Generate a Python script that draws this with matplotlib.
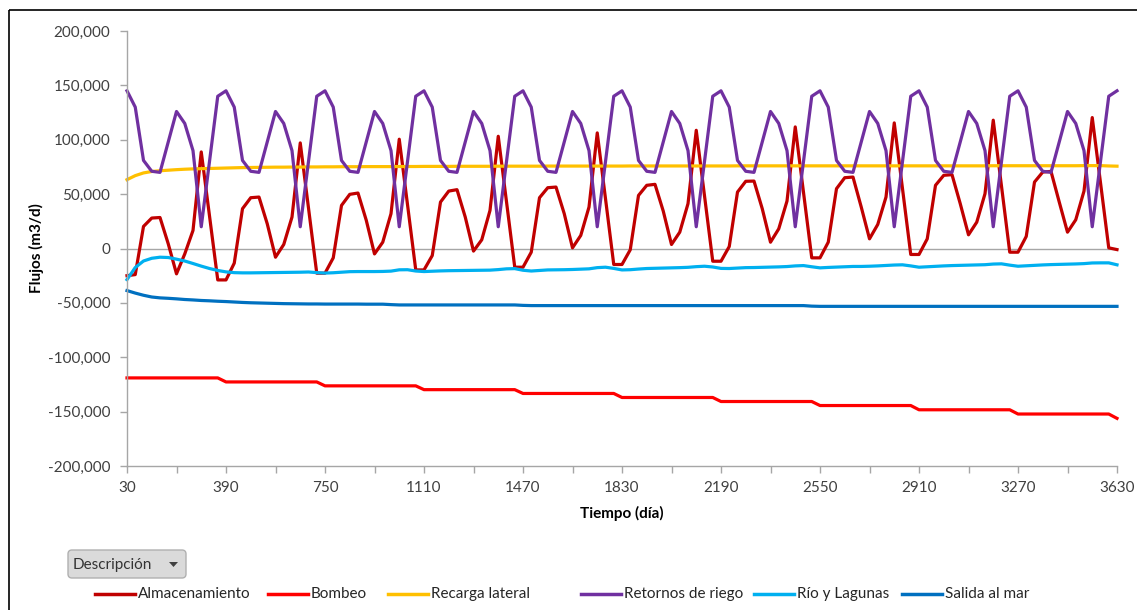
import numpy as np
import matplotlib
matplotlib.use('Agg')
import matplotlib.pyplot as plt
from matplotlib.ticker import FuncFormatter, MultipleLocator
from matplotlib.patches import FancyBboxPatch, Rectangle, Polygon
from matplotlib.lines import Line2D

plt.rcParams['font.family'] = ['Lato', 'DejaVu Sans']

# dias de simulacion (pasos mensuales)
dias = list(range(30, 3631, 30))

almacenamiento = [
    -25000, -24000, 20300, 28000, 28500, 4300, -23300, -5000, 16600, 88800, 30000, -28900,
    -28900, -13500, 36600, 46700, 47300, 22700, -8000, 3700, 28900, 97100, 37200, -22700,
    -22700, -8600, 39600, 49800, 51000, 26000, -5000, 5800, 32000, 100500, 40400, -19700,
    -19700, -6500, 42700, 52800, 54100, 28900, -2400, 8000, 35000, 103200, 43000, -17200,
    -17200, -3400, 46700, 55900, 56500, 32000, 600, 12000, 38100, 106300, 45800, -14700,
    -14700, -1200, 48800, 58100, 59000, 34400, 3700, 15000, 41200, 108700, 48500, -11700,
    -11700, 1800, 51900, 61800, 62000, 36600, 5800, 18100, 43600, 111800, 51600, -8600,
    -8600, 5800, 55000, 65100, 65700, 38100, 8900, 22100, 47300, 115500, 55000, -5500,
    -5500, 8900, 58100, 67300, 67900, 41200, 12600, 24200, 50400, 118000, 57300, -3400,
    -3400, 11100, 61100, 70300, 70900, 42700, 15000, 26400, 52800, 120400, 60500, 600,
    -1000]

bombeo = [
    -119000, -119000, -119000, -119000, -119000, -119000, -119000, -119000, -119000, -119000, -119000, -119000,
    -122700, -122700, -122700, -122700, -122700, -122700, -122700, -122700, -122700, -122700, -122700, -122700,
    -126300, -126300, -126300, -126300, -126300, -126300, -126300, -126300, -126300, -126300, -126300, -126300,
    -129800, -129800, -129800, -129800, -129800, -129800, -129800, -129800, -129800, -129800, -129800, -129800,
    -133300, -133300, -133300, -133300, -133300, -133300, -133300, -133300, -133300, -133300, -133300, -133300,
    -137000, -137000, -137000, -137000, -137000, -137000, -137000, -137000, -137000, -137000, -137000, -137000,
    -140700, -140700, -140700, -140700, -140700, -140700, -140700, -140700, -140700, -140700, -140700, -140700,
    -144400, -144400, -144400, -144400, -144400, -144400, -144400, -144400, -144400, -144400, -144400, -144400,
    -148300, -148300, -148300, -148300, -148300, -148300, -148300, -148300, -148300, -148300, -148300, -148300,
    -152200, -152200, -152200, -152200, -152200, -152200, -152200, -152200, -152200, -152200, -152200, -152200,
    -156200]

recarga_lateral = [
    63300, 67000, 69500, 70800, 71500, 72000, 72500, 72900, 73200, 73400, 73600, 73800,
    74000, 74200, 74400, 74500, 74600, 74700, 74800, 74800, 74900, 74900, 75000, 75000,
    75100, 75100, 75200, 75200, 75200, 75300, 75300, 75300, 75300, 75400, 75400, 75400,
    75500, 75500, 75500, 75500, 75600, 75600, 75600, 75600, 75600, 75700, 75700, 75700,
    75700, 75700, 75700, 75800, 75800, 75800, 75800, 75800, 75800, 75800, 75800, 75800,
    75800, 75900, 75900, 75900, 75900, 75900, 75900, 75900, 75900, 75900, 75900, 75900,
    75900, 75900, 76000, 76000, 76000, 76000, 76000, 76000, 76000, 76000, 76000, 76000,
    76000, 76000, 76000, 76000, 76000, 76000, 76000, 76000, 76000, 76000, 76000, 76000,
    76000, 76000, 76000, 76000, 76000, 76000, 76000, 76000, 76000, 76100, 76100, 76100,
    76100, 76100, 76100, 76100, 76100, 76100, 76100, 76100, 76200, 76200, 76200, 75900,
    75700]

retornos_riego = [
    145000, 130000, 81000, 71000, 70000, 98000, 126000, 115000, 90000, 20000, 80000, 140000,
    145000, 130000, 81000, 71000, 70000, 98000, 126000, 115000, 90000, 20000, 80000, 140000,
    145000, 130000, 81000, 71000, 70000, 98000, 126000, 115000, 90000, 20000, 80000, 140000,
    145000, 130000, 81000, 71000, 70000, 98000, 126000, 115000, 90000, 20000, 80000, 140000,
    145000, 130000, 81000, 71000, 70000, 98000, 126000, 115000, 90000, 20000, 80000, 140000,
    145000, 130000, 81000, 71000, 70000, 98000, 126000, 115000, 90000, 20000, 80000, 140000,
    145000, 130000, 81000, 71000, 70000, 98000, 126000, 115000, 90000, 20000, 80000, 140000,
    145000, 130000, 81000, 71000, 70000, 98000, 126000, 115000, 90000, 20000, 80000, 140000,
    145000, 130000, 81000, 71000, 70000, 98000, 126000, 115000, 90000, 20000, 80000, 140000,
    145000, 130000, 81000, 71000, 70000, 98000, 126000, 115000, 90000, 20000, 80000, 140000,
    145000]

rio_lagunas = [
    -28600, -17500, -11500, -9000, -8000, -8300, -9800, -11500, -13800, -16200, -18400, -20200,
    -21500, -22200, -22400, -22400, -22300, -22200, -22100, -22000, -21900, -21800, -21600, -22200,
    -22600, -22300, -21800, -21300, -21200, -21200, -21200, -21100, -20800, -19600, -19500, -20700,
    -21200, -20900, -20600, -20400, -20300, -20200, -20100, -20000, -19900, -19400, -18700, -18500,
    -20000, -20700, -20200, -19700, -19600, -19500, -19300, -19000, -18700, -17600, -17200, -18300,
    -19700, -19500, -18900, -18400, -18200, -18000, -17800, -17600, -17300, -16700, -16300, -17000,
    -18300, -18400, -18000, -17600, -17500, -17300, -17100, -16900, -16600, -16000, -15700, -16800,
    -17800, -17400, -17100, -16800, -16500, -16500, -16300, -16000, -15600, -15200, -15000, -16000,
    -17200, -16800, -16400, -16000, -15700, -15500, -15300, -15100, -14900, -14300, -14100, -15300,
    -16300, -15900, -15500, -15100, -14800, -14600, -14400, -14200, -13900, -13300, -13200, -13200,
    -15000]

salida_mar = [
    -38700, -41000, -43000, -44600, -45400, -45800, -46300, -46900, -47300, -47800, -48100, -48500,
    -48800, -49200, -49600, -49900, -50100, -50300, -50500, -50700, -50800, -50900, -51000, -51000,
    -51100, -51100, -51100, -51100, -51100, -51200, -51200, -51200, -51600, -51900, -51900, -51900,
    -51900, -51900, -51900, -51900, -51900, -51900, -51900, -51900, -51900, -51900, -51900, -51900,
    -52300, -52500, -52500, -52500, -52500, -52500, -52500, -52500, -52500, -52500, -52500, -52500,
    -52500, -52500, -52500, -52500, -52500, -52500, -52500, -52500, -52500, -52500, -52500, -52500,
    -52500, -52500, -52500, -52500, -52500, -52500, -52500, -52500, -52500, -52500, -52500, -53000,
    -53200, -53200, -53200, -53200, -53200, -53200, -53200, -53200, -53200, -53200, -53200, -53200,
    -53200, -53200, -53200, -53200, -53200, -53200, -53200, -53200, -53200, -53200, -53200, -53200,
    -53200, -53200, -53200, -53200, -53200, -53200, -53200, -53200, -53200, -53200, -53200, -53200,
    -53200]

series = [
    ('Almacenamiento', almacenamiento, '#C00000'),
    ('Bombeo', bombeo, '#FF0000'),
    ('Recarga lateral', recarga_lateral, '#FFC000'),
    ('Retornos de riego', retornos_riego, '#7030A0'),
    ('Río y Lagunas', rio_lagunas, '#00B0F0'),
    ('Salida al mar', salida_mar, '#0070C0'),
]

W, H = 1137, 610
fig = plt.figure(figsize=(W / 100, H / 100), dpi=100)
fig.patch.set_facecolor('white')

# capa de fondo en pixeles para el marco, boton y leyenda
bg = fig.add_axes([0, 0, 1, 1], zorder=0)
bg.set_xlim(0, W)
bg.set_ylim(H, 0)
bg.axis('off')

ax = fig.add_axes([127 / W, (H - 466) / H, (1117 - 127) / W, (466 - 31) / H], zorder=1)
ax.patch.set_alpha(0)

for name, vals, color in series:
    ax.plot(dias, vals, color=color, lw=2.3, solid_joinstyle='round', clip_on=False)

ax.set_xlim(30, 3630)
ax.set_ylim(-200000, 200000)
ax.axhline(0, color='#A6A6A6', lw=1, zorder=0)

ax.set_xticks(range(30, 3631, 360))
ax.set_xticks(range(210, 3631, 360), minor=True)
ax.yaxis.set_major_locator(MultipleLocator(50000))
ax.yaxis.set_major_formatter(FuncFormatter(lambda v, p: '{:,.0f}'.format(v)))

for s in ['top', 'right']:
    ax.spines[s].set_visible(False)
for s in ['left', 'bottom']:
    ax.spines[s].set_color('#A6A6A6')
    ax.spines[s].set_linewidth(1)

ax.tick_params(axis='both', which='both', direction='out', length=5, width=1,
               color='#A6A6A6', labelsize=11, labelcolor='#404040')
ax.tick_params(axis='y', pad=7)
ax.tick_params(axis='x', pad=6)

ax.set_xlabel('Tiempo (día)', fontsize=11, fontweight='bold', labelpad=8)
ax.set_ylabel('Flujos (m3/d)', fontsize=11, fontweight='bold')
ax.yaxis.set_label_coords((44 - 127) / 990, 0.5)

# marco exterior del grafico
bg.add_patch(Rectangle((9, 10), 1140, 700, fill=False, ec='black', lw=1.2))

# boton de campo "Descripción"
bg.add_patch(FancyBboxPatch((68, 550), 118, 28, boxstyle='round,pad=0,rounding_size=4',
                            fc='#DADADA', ec='#B0B0B0', lw=1))
bg.text(73, 565, 'Descripción', fontsize=11, color='#333333', va='center', ha='left')
bg.add_patch(Polygon([(169, 562), (178, 562), (173.5, 567)], closed=True, fc='#404040', ec='none'))

# leyenda
leg_x = [95, 268, 388, 581, 754, 902]
leg_y = 594
for (name, vals, color), x0 in zip(series, leg_x):
    bg.add_line(Line2D([x0, x0 + 40], [leg_y, leg_y], color=color, lw=2.5))
    bg.text(x0 + 43, leg_y, name, fontsize=11, color='#262626', va='center', ha='left')

plt.savefig('out.png', dpi=100)
